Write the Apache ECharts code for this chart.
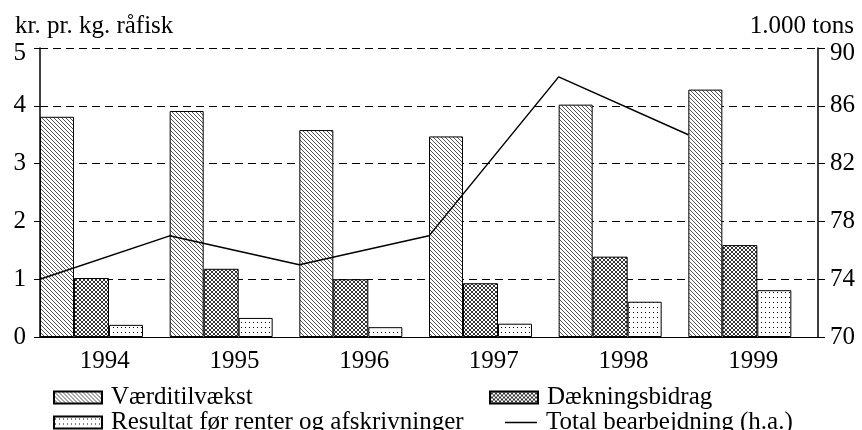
<!doctype html>
<html>
<head>
<meta charset="utf-8">
<title>Værditilvækst og bearbejdning</title>
<style>
  html, body { margin: 0; padding: 0; background: #fff; }
  #main { width: 862px; height: 430px; }
</style>
</head>
<body>
<div id="main"></div>
<script src="https://cdn.jsdelivr.net/npm/echarts@6/dist/echarts.min.js"></script>
<script>
// data
var years = ['1994', '1995', '1996', '1997', '1998', '1999'];
var vaerditilvaekst = [3.81, 3.91, 3.58, 3.47, 4.02, 4.28];
var daekningsbidrag = [1.02, 1.18, 1.0, 0.93, 1.39, 1.59];
var resultat = [0.21, 0.33, 0.17, 0.23, 0.61, 0.81];
var bearbejdning = [74, 77, 75, 77, 88, 84]; // 1.000 tons, right axis

var FONT = '"Liberation Serif", "DejaVu Serif", serif';
var FS = 25;

// small canvas fills for the hatched bars
function makePattern(w, h, draw) {
  var c = document.createElement('canvas');
  c.width = w; c.height = h;
  var ctx = c.getContext('2d');
  ctx.fillStyle = '#fff';
  ctx.fillRect(0, 0, w, h);
  draw(ctx);
  return { image: c, repeat: 'repeat' };
}
var hatch = makePattern(4, 4, function (ctx) {
  ctx.fillStyle = '#555';
  for (var i = 0; i < 4; i++) ctx.fillRect(i, i, 1, 1);
});
var cross = makePattern(4, 4, function (ctx) {
  ctx.fillStyle = '#333';
  for (var i = 0; i < 4; i++) { ctx.fillRect(i, i, 1, 1); ctx.fillRect(3 - i, i, 1, 1); }
});
var dots = makePattern(4, 5, function (ctx) {
  ctx.fillStyle = '#000';
  ctx.fillRect(1, 2, 1, 1);
});

var blank = years.map(function () { return '-'; });
// x positions for the line: it sits on the category boundaries
var lineCats = years.concat(['']);

function legendItem(name, left, top, extra) {
  var l = {
    left: left, top: top, itemWidth: 48, itemHeight: 12, icon: 'rect',
    data: [name],
    textStyle: { fontFamily: FONT, fontSize: FS, color: '#000', lineHeight: 24, padding: [0, 0, 0, 4] }
  };
  for (var k in extra) l[k] = extra[k];
  return l;
}

// top tick label sits a little lower than its tick in the original
function tickLabel(max) {
  return {
    color: '#000', fontSize: FS, fontFamily: FONT,
    formatter: function (v) { return v === max ? '{top|' + v + '}' : String(v); },
    rich: { top: { fontSize: FS, fontFamily: FONT, color: '#000', padding: [10, 0, 0, 0] } }
  };
}

var myChart = echarts.init(document.getElementById('main'));

var leftLabel = tickLabel(5); leftLabel.margin = 14;
var rightLabel = tickLabel(90); rightLabel.margin = 12;

var option = {
  animation: false,
  textStyle: { fontFamily: FONT },
  title: [
    { text: 'kr. pr. kg. råfisk', left: 10, top: 9,
      textStyle: { fontFamily: FONT, fontSize: FS, fontWeight: 'normal', color: '#000' } },
    { text: '1.000 tons', right: 3, top: 9,
      textStyle: { fontFamily: FONT, fontSize: FS, fontWeight: 'normal', color: '#000' } }
  ],
  legend: [
    legendItem('Værditilvækst', 48, 380),
    legendItem('Resultat før renter og afskrivninger', 48, 405),
    legendItem('Dækningsbidrag', 484, 380),
    legendItem('Total bearbejdning (h.a.)', 500, 405,
      { itemWidth: 32, itemHeight: 1.5 })
  ],
  grid: { left: 40, right: 44, top: 48, bottom: 93 },
  xAxis: [
    {
      type: 'category', data: years,
      axisLine: { lineStyle: { color: '#000', width: 1 } },
      axisTick: { length: 7, lineStyle: { color: '#000' } },
      axisLabel: { color: '#000', fontSize: FS, fontFamily: FONT, margin: 12 }
    },
    {
      type: 'category', data: lineCats, boundaryGap: false, show: false
    }
  ],
  yAxis: [
    {
      type: 'value', min: 0, max: 5, interval: 1,
      axisLine: { show: true, lineStyle: { color: '#000', width: 1.5 } },
      axisTick: { show: true, length: 6, lineStyle: { color: '#000' } },
      axisLabel: leftLabel,
      splitLine: { show: true, lineStyle: { color: '#000', type: [8, 5], width: 1 } }
    },
    {
      type: 'value', min: 70, max: 90, interval: 4,
      axisLine: { show: true, lineStyle: { color: '#000', width: 1.5 } },
      axisTick: { show: true, length: 7, lineStyle: { color: '#000' } },
      axisLabel: rightLabel,
      splitLine: { show: false }
    }
  ],
  series: [
    {
      name: 'Værditilvækst', type: 'bar', data: vaerditilvaekst,
      barWidth: 34, barGap: 0,
      itemStyle: { color: hatch, borderColor: '#000', borderWidth: 1 }
    },
    {
      name: 'Dækningsbidrag', type: 'bar', data: daekningsbidrag,
      barWidth: 35, barGap: 0,
      itemStyle: { color: cross, borderColor: '#000', borderWidth: 1 }
    },
    {
      name: 'Resultat før renter og afskrivninger', type: 'bar', data: resultat,
      barWidth: 34, barGap: 0,
      itemStyle: { color: dots, borderColor: '#000', borderWidth: 1 }
    },
    { // empty slot so the three bars start at the left edge of each year
      name: 'spacer', type: 'bar', data: blank, barWidth: 26.67, barGap: 0,
      silent: true, itemStyle: { color: 'transparent' }
    },
    {
      name: 'Total bearbejdning (h.a.)', type: 'line', data: bearbejdning,
      xAxisIndex: 1, yAxisIndex: 1,
      symbol: 'none', lineStyle: { color: '#000', width: 1.5 },
      itemStyle: { color: '#000' }, z: 5
    }
  ]
};

myChart.setOption(option);
</script>
</body>
</html>
